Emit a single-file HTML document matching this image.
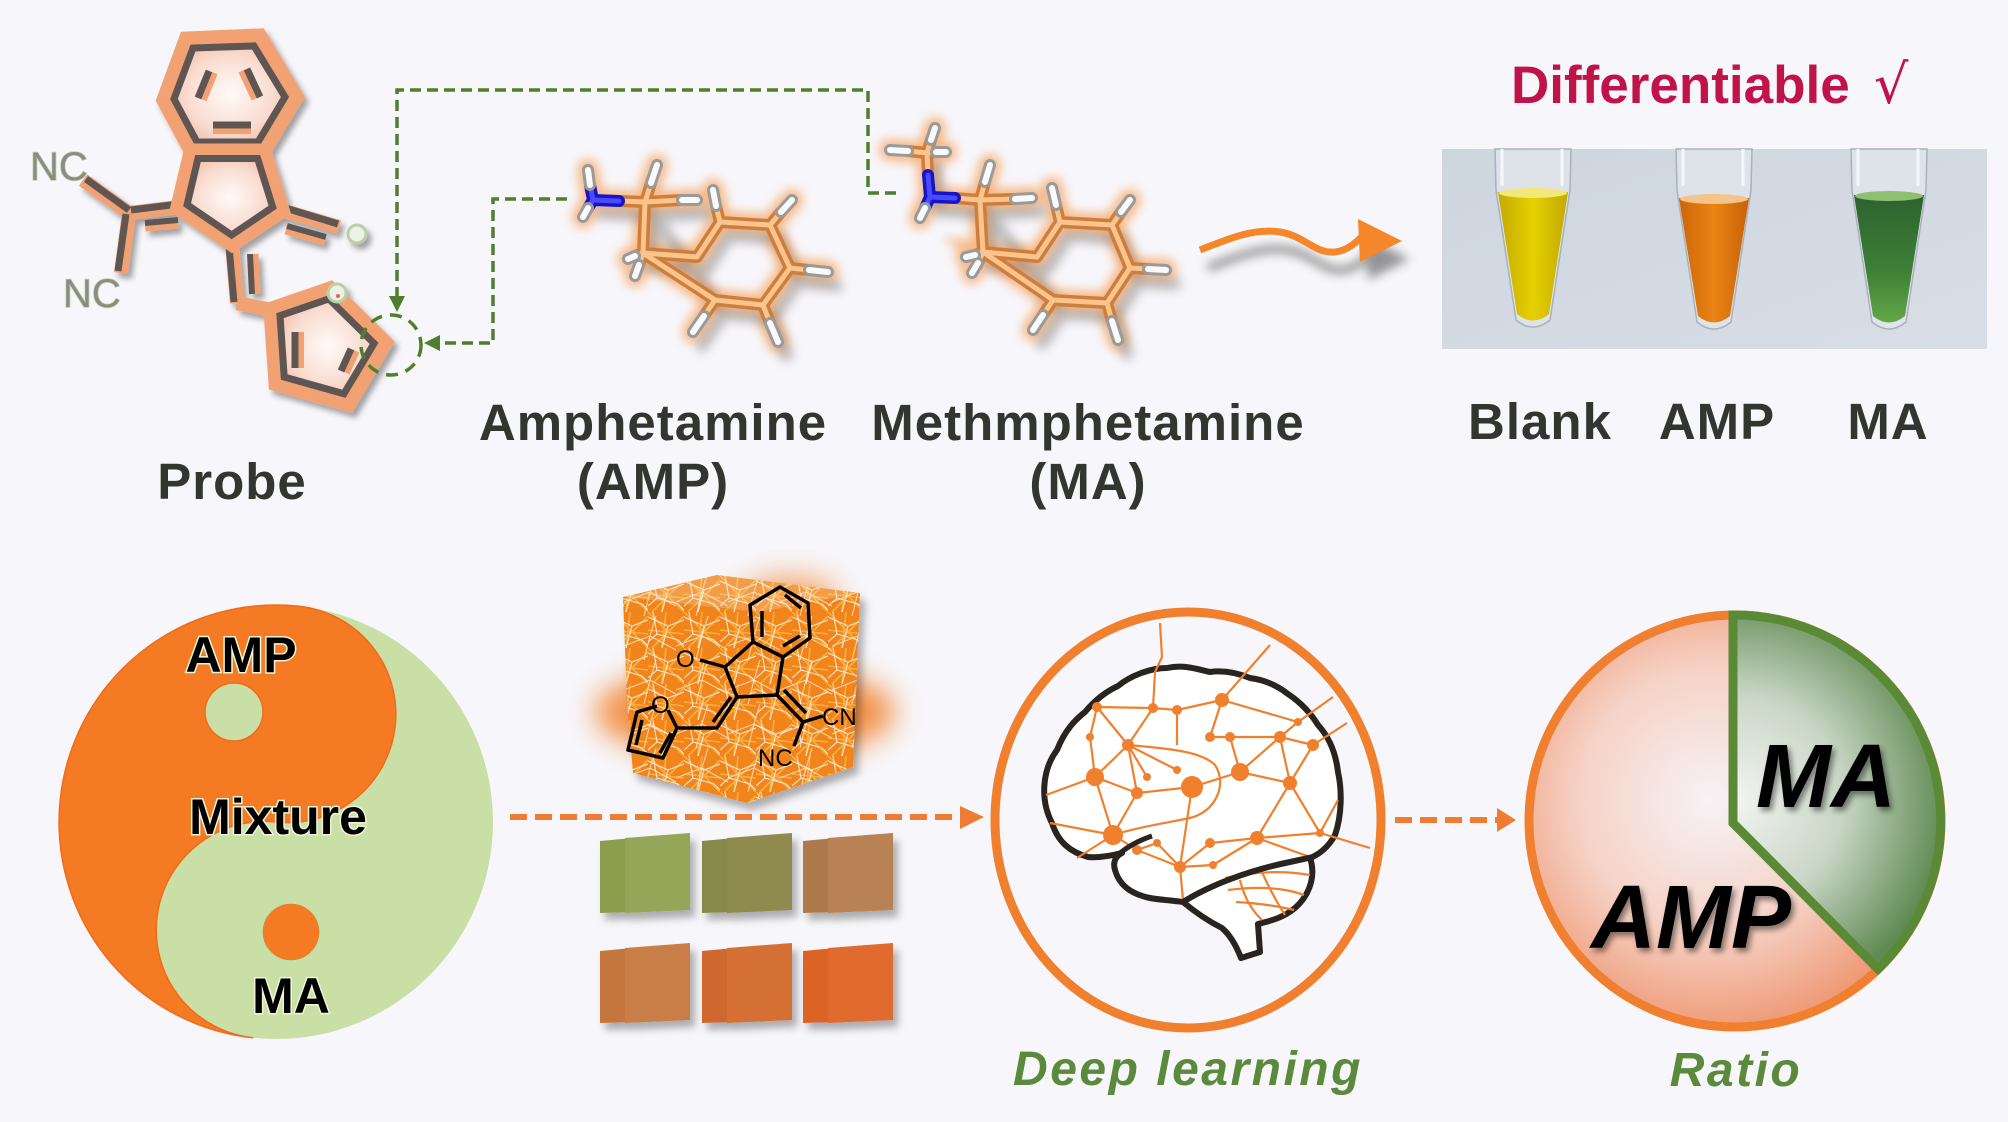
<!DOCTYPE html>
<html><head><meta charset="utf-8"><style>
html,body{margin:0;padding:0;background:#f7f6fa;}
body{width:2008px;height:1122px;overflow:hidden;}
svg{display:block;}
</style></head><body>
<svg width="2008" height="1122" viewBox="0 0 2008 1122" xmlns="http://www.w3.org/2000/svg">
<defs>
  <filter id="blur6" x="-30%" y="-30%" width="160%" height="160%"><feGaussianBlur stdDeviation="5"/></filter>
  <filter id="blur12" x="-50%" y="-50%" width="200%" height="200%"><feGaussianBlur stdDeviation="14"/></filter>
  <filter id="ds" x="-20%" y="-20%" width="140%" height="140%"><feDropShadow dx="4" dy="5" stdDeviation="3" flood-color="#000" flood-opacity="0.35"/></filter>
  <filter id="ds2" x="-20%" y="-20%" width="140%" height="140%"><feDropShadow dx="5" dy="7" stdDeviation="4" flood-color="#000" flood-opacity="0.3"/></filter>
  <filter id="tsh" x="-20%" y="-20%" width="140%" height="140%"><feDropShadow dx="3" dy="4" stdDeviation="3" flood-color="#000" flood-opacity="0.45"/></filter>
  <radialGradient id="pink" cx="50%" cy="50%" r="55%">
    <stop offset="0" stop-color="#fffaf8"/><stop offset="0.6" stop-color="#f9dcd0"/><stop offset="1" stop-color="#f0b8a2"/>
  </radialGradient>
  <radialGradient id="pieO" cx="44%" cy="45%" r="58%">
    <stop offset="0" stop-color="#f6f2f6"/><stop offset="0.55" stop-color="#f6d2c6"/><stop offset="1" stop-color="#ee9670"/>
  </radialGradient>
  <radialGradient id="pieG" cx="1737" cy="800" r="210" gradientUnits="userSpaceOnUse">
    <stop offset="0" stop-color="#f2f4f2"/><stop offset="0.5" stop-color="#c9d6c6"/><stop offset="1" stop-color="#5f8a52"/>
  </radialGradient>
  <linearGradient id="photo" x1="0" x2="1" y1="0" y2="1">
    <stop offset="0" stop-color="#cdd5de"/><stop offset="1" stop-color="#d9dee6"/>
  </linearGradient>
  <linearGradient id="ly" x1="0" x2="1"><stop offset="0" stop-color="#c4aa00"/><stop offset="0.5" stop-color="#e6d000"/><stop offset="1" stop-color="#c2a800"/></linearGradient>
  <linearGradient id="lo" x1="0" x2="1"><stop offset="0" stop-color="#cc6606"/><stop offset="0.5" stop-color="#ea8416"/><stop offset="1" stop-color="#c86206"/></linearGradient>
  <linearGradient id="lg" x1="0" x2="0" y1="0" y2="1"><stop offset="0" stop-color="#2c6230"/><stop offset="0.6" stop-color="#3e8036"/><stop offset="1" stop-color="#62a848"/></linearGradient>
  <pattern id="net1" width="36" height="36" patternUnits="userSpaceOnUse">
    <rect width="36" height="36" fill="#f2841e"/>
    <g stroke="#f9b040" stroke-width="1.6" fill="none">
      <path d="M0,18 L36,22 M18,0 L14,36 M0,0 L36,36 M36,4 L4,36"/>
    </g>
    <g stroke="#f8e8d2" stroke-width="1.1" fill="none">
      <path d="M0,5 L20,14 L36,8 M20,14 L14,36 M5,0 L9,22 L0,30 M9,22 L30,28 L36,34"/>
    </g>
  </pattern>
  <pattern id="net2" width="52" height="44" patternUnits="userSpaceOnUse">
    <g stroke="#fdf3e6" stroke-width="1.1" fill="none" opacity="0.7">
      <path d="M0,30 L26,20 L52,34 M26,20 L32,0 M26,20 L20,44"/>
    </g>
  </pattern>
</defs>

<!-- ================= TOP: PROBE ================= -->
<g filter="url(#ds)">
  <g stroke-linecap="butt" fill="none">
    <g stroke="#f2a272" stroke-width="14">
      <line x1="83" y1="180" x2="129" y2="213"/>
      <line x1="129" y1="213" x2="179" y2="207"/>
      <line x1="129" y1="213" x2="121" y2="273"/>
      <line x1="281" y1="210" x2="339" y2="227"/>
      <line x1="232" y1="243" x2="237" y2="303"/>
      <line x1="237" y1="303" x2="272" y2="310"/>
    </g>
    <g stroke="#5f5652" stroke-width="7">
      <line x1="86" y1="179" x2="129" y2="210"/>
      <line x1="131" y1="210" x2="179" y2="204"/>
      <line x1="126" y1="214" x2="118" y2="271"/>
      <line x1="282" y1="207" x2="338" y2="224"/>
      <line x1="229" y1="246" x2="234" y2="302"/>
    </g>
    <g stroke="#f2a272" stroke-width="11">
      <line x1="145" y1="226" x2="178" y2="223"/>
      <line x1="286" y1="229" x2="325" y2="240"/>
      <line x1="253" y1="254" x2="255" y2="294"/>
    </g>
    <g stroke="#5f5652" stroke-width="6">
      <line x1="145" y1="223" x2="178" y2="220"/>
      <line x1="287" y1="226" x2="326" y2="237"/>
      <line x1="250" y1="254" x2="252" y2="294"/>
    </g>
  </g>
  <polygon points="187,40 259,37 295,97 263,150 192,150 165,100" fill="url(#pink)" stroke="#f2a272" stroke-width="17" stroke-linejoin="miter"/>
  <polygon points="193,48 254,46 285,97 258,142 197,142 174,99" fill="none" stroke="#5f5652" stroke-width="7"/>
  <polygon points="192,152 263,152 281,210 232,243 179,207" fill="url(#pink)" stroke="#f2a272" stroke-width="17"/>
  <polygon points="198,158.5 257.6,158.5 272.7,207.2 231.6,235 187.1,204.7" fill="none" stroke="#5f5652" stroke-width="7"/>
  <polygon points="272,310 330,290 384,343 348,403 277,383" fill="url(#pink)" stroke="#f2a272" stroke-width="17"/>
  <polygon points="280,315.7 328.8,298.9 374.1,343.4 343.9,393.8 284.2,377" fill="none" stroke="#5f5652" stroke-width="7"/>
  <g stroke-linecap="butt">
    <g stroke="#f2a272" stroke-width="12">
      <line x1="212" y1="72" x2="201" y2="99"/>
      <line x1="244" y1="70" x2="257" y2="98"/>
      <line x1="213" y1="128" x2="251" y2="128"/>
      <line x1="298" y1="332" x2="298" y2="368"/>
      <line x1="354" y1="350" x2="344" y2="372"/>
    </g>
    <g stroke="#5f5652" stroke-width="7">
      <line x1="209" y1="71" x2="198" y2="98"/>
      <line x1="247" y1="69" x2="260" y2="97"/>
      <line x1="213" y1="125" x2="251" y2="125"/>
      <line x1="295" y1="332" x2="295" y2="368"/>
      <line x1="351" y1="349" x2="341" y2="371"/>
    </g>
  </g>
  <circle cx="357" cy="234" r="9" fill="#eef0e8" stroke="#b9cfa7" stroke-width="3"/>
  <circle cx="337" cy="293" r="9" fill="#eef0e8" stroke="#b9cfa7" stroke-width="3"/>
  <circle cx="338" cy="296" r="2" fill="#d07040"/>
</g>
<g font-family="Liberation Sans, sans-serif" font-size="40" fill="#8c8c80" stroke="#c3d6b3" stroke-width="1.5" paint-order="stroke">
  <text x="30" y="180">NC</text>
  <text x="63" y="307">NC</text>
</g>

<!-- green dashed connectors -->
<g fill="none" stroke="#4f7f2e" stroke-width="3.5" stroke-dasharray="11 6">
  <path d="M896,193 L868,193 L868,90 L397,90 L397,298"/>
  <path d="M567,199 L493,199 L493,343 L438,343"/>
  <circle cx="391" cy="345" r="30" stroke-dasharray="12 8"/>
</g>
<polygon points="389,296 405,296 397,312" fill="#4f7f2e"/>
<polygon points="440,335 440,351 424,343" fill="#4f7f2e"/>

<!-- ================= AMP molecule ================= -->
<g>
  <g stroke="#f7a05c" stroke-width="22" stroke-linecap="round" fill="none" filter="url(#blur6)" opacity="0.7">
    <path d="M588,170 L593,200 L583,217 M593,200 L645,202 L657,165 M645,202 L697,200 M645,202 L643,253 L628,259 M643,253 L635,276 M643,253 L697,257 L720,222 L770,225 L790,268 L763,305 L715,300 Z M720,222 L713,190 M770,225 L792,200 M790,268 L828,272 M763,305 L778,342 M715,300 L693,332"/>
  </g>
  <g stroke="#777" stroke-width="12" stroke-linecap="round" fill="none" filter="url(#blur6)" opacity="0.45" transform="translate(9,14)">
    <path d="M593,200 L645,202 L697,200 M645,202 L643,253 L697,257 L720,222 L770,225 L790,268 L763,305 L715,300 Z M790,268 L828,272 M763,305 L778,342 M715,300 L693,332"/>
  </g>
  <g stroke-linecap="round" fill="none">
    <path d="M619,201 L645,202 M645,202 L651,183 M645,202 L682,200 M645,202 L643,253 L635,256 M643,253 L639,265 M643,253 L697,257 L720,222 L770,225 L790,268 L763,305 L715,300 Z M720,222 L716,206 M770,225 L781,212 M790,268 L809,270 M763,305 L770,323 M715,300 L704,316" stroke="#cf7d3a" stroke-width="12" stroke-linejoin="round"/>
    <path d="M619,201 L645,202 M645,202 L651,183 M645,202 L682,200 M645,202 L643,253 L635,256 M643,253 L639,265 M643,253 L697,257 L720,222 L770,225 L790,268 L763,305 L715,300 Z M720,222 L716,206 M770,225 L781,212 M790,268 L809,270 M763,305 L770,323 M715,300 L704,316" stroke="#f9c48e" stroke-width="5" stroke-linejoin="round"/>
    <path d="M593,200 L619,201 M593,200 L590,185 M593,200 L588,208" stroke="#1414c8" stroke-width="12"/>
    <path d="M593,200 L619,201 M593,200 L590,185 M593,200 L588,208" stroke="#4a4aff" stroke-width="5"/>
    <path d="M590,185 L588,170 M588,208 L583,217 M651,183 L657,165 M682,200 L697,200 M635,256 L628,259 M639,265 L635,276 M716,206 L713,190 M781,212 L792,200 M809,270 L828,272 M770,323 L778,342 M704,316 L693,332" stroke="#9a9a9a" stroke-width="12"/>
    <path d="M590,185 L588,170 M588,208 L583,217 M651,183 L657,165 M682,200 L697,200 M635,256 L628,259 M639,265 L635,276 M716,206 L713,190 M781,212 L792,200 M809,270 L828,272 M770,323 L778,342 M704,316 L693,332" stroke="#fafafa" stroke-width="6"/>
  </g>
</g>

<!-- ================= MA molecule ================= -->
<g>
  <g stroke="#f7a05c" stroke-width="22" stroke-linecap="round" fill="none" filter="url(#blur6)" opacity="0.7">
    <path d="M935,128 L927,153 L890,150 M927,153 L946,152 M927,153 L930,197 L920,218 M930,197 L980,200 L990,165 M980,200 L1032,198 M980,200 L983,252 L966,257 M983,252 L972,273 M983,252 L1037,257 L1060,222 L1112,225 L1130,268 L1107,303 L1053,300 Z M1060,222 L1052,188 M1112,225 L1130,200 M1130,268 L1166,270 M1107,303 L1118,340 M1053,300 L1033,330"/>
  </g>
  <g stroke="#777" stroke-width="12" stroke-linecap="round" fill="none" filter="url(#blur6)" opacity="0.45" transform="translate(9,14)">
    <path d="M927,153 L930,197 L980,200 L1032,198 M980,200 L983,252 L1037,257 L1060,222 L1112,225 L1130,268 L1107,303 L1053,300 Z M1130,268 L1166,270 M1107,303 L1118,340 M1053,300 L1033,330"/>
  </g>
  <g stroke-linecap="round" fill="none">
    <path d="M927,153 L931,140 M927,153 L908,151 M927,153 L936,152 M927,153 L928,175 M955,198 L980,200 M980,200 L985,182 M980,200 L1015,199 M980,200 L983,252 L975,255 M983,252 L978,263 M983,252 L1037,257 L1060,222 L1112,225 L1130,268 L1107,303 L1053,300 Z M1060,222 L1056,205 M1112,225 L1121,212 M1130,268 L1148,269 M1107,303 L1112,321 M1053,300 L1043,315" stroke="#cf7d3a" stroke-width="12" stroke-linejoin="round"/>
    <path d="M927,153 L931,140 M927,153 L908,151 M927,153 L936,152 M927,153 L928,175 M955,198 L980,200 M980,200 L985,182 M980,200 L1015,199 M980,200 L983,252 L975,255 M983,252 L978,263 M983,252 L1037,257 L1060,222 L1112,225 L1130,268 L1107,303 L1053,300 Z M1060,222 L1056,205 M1112,225 L1121,212 M1130,268 L1148,269 M1107,303 L1112,321 M1053,300 L1043,315" stroke="#f9c48e" stroke-width="5" stroke-linejoin="round"/>
    <path d="M928,175 L930,197 L955,198 M930,197 L925,208" stroke="#1414c8" stroke-width="12" stroke-linejoin="round"/>
    <path d="M928,175 L930,197 L955,198 M930,197 L925,208" stroke="#4a4aff" stroke-width="5" stroke-linejoin="round"/>
    <path d="M931,140 L935,128 M908,151 L890,150 M936,152 L946,152 M925,208 L920,218 M985,182 L990,165 M1015,199 L1032,198 M975,255 L966,257 M978,263 L972,273 M1056,205 L1052,188 M1121,212 L1130,200 M1148,269 L1166,270 M1112,321 L1118,340 M1043,315 L1033,330" stroke="#9a9a9a" stroke-width="12"/>
    <path d="M931,140 L935,128 M908,151 L890,150 M936,152 L946,152 M925,208 L920,218 M985,182 L990,165 M1015,199 L1032,198 M975,255 L966,257 M978,263 L972,273 M1056,205 L1052,188 M1121,212 L1130,200 M1148,269 L1166,270 M1112,321 L1118,340 M1043,315 L1033,330" stroke="#fafafa" stroke-width="6"/>
  </g>
</g>

<!-- wavy orange arrow -->
<g transform="translate(8,18)" filter="url(#blur6)" opacity="0.55">
  <path d="M1200,250 C1230,238 1255,228 1280,232 C1305,236 1315,254 1335,252 C1350,250 1358,240 1365,234" fill="none" stroke="#444" stroke-width="8"/>
  <polygon points="1358,219 1402,241 1360,262" fill="#444"/>
</g>
<path d="M1200,250 C1230,238 1255,228 1280,232 C1305,236 1315,254 1335,252 C1350,250 1358,240 1365,234" fill="none" stroke="#f5862a" stroke-width="7"/>
<polygon points="1358,219 1402,241 1360,262" fill="#f5862a"/>

<!-- photo of tubes -->
<rect x="1442" y="149" width="545" height="200" fill="url(#photo)"/>
<g>
  <g transform="translate(1533,0)">
    <path d="M-38,149 L38,149 L37,190 L17,320 Q0,334 -17,320 L-37,190 Z" fill="#e6eaef" fill-opacity="0.6" stroke="#a9b1ba" stroke-width="1.5"/>
    <path d="M-35,192 L35,192 L16,314 Q0,327 -16,314 Z" fill="url(#ly)"/>
    <ellipse cx="0" cy="193" rx="34" ry="5" fill="#f2e87a"/>
    <path d="M-31,149 L-31,186 M29,149 L29,186" stroke="#f6f7f9" stroke-width="3"/>
  </g>
  <g transform="translate(1714,0)">
    <path d="M-38,149 L38,149 L37,190 L17,322 Q0,336 -17,322 L-37,190 Z" fill="#e6eaef" fill-opacity="0.6" stroke="#a9b1ba" stroke-width="1.5"/>
    <path d="M-35,198 L35,198 L16,316 Q0,329 -16,316 Z" fill="url(#lo)"/>
    <ellipse cx="0" cy="199" rx="34" ry="5" fill="#f4c48a"/>
    <path d="M-31,149 L-31,186 M29,149 L29,186" stroke="#f6f7f9" stroke-width="3"/>
  </g>
  <g transform="translate(1889,0)">
    <path d="M-38,149 L38,149 L37,190 L17,322 Q0,336 -17,322 L-37,190 Z" fill="#e6eaef" fill-opacity="0.6" stroke="#a9b1ba" stroke-width="1.5"/>
    <path d="M-35,195 L35,195 L16,316 Q0,329 -16,316 Z" fill="url(#lg)"/>
    <ellipse cx="0" cy="196" rx="34" ry="5" fill="#8fc070"/>
    <path d="M-31,149 L-31,186 M29,149 L29,186" stroke="#f6f7f9" stroke-width="3"/>
  </g>
</g>

<!-- top labels -->
<g font-family="Liberation Sans, sans-serif" font-weight="bold" font-size="51" fill="#32362f" text-anchor="middle" letter-spacing="1">
  <text x="232" y="499">Probe</text>
  <text x="653" y="440">Amphetamine</text>
  <text x="653" y="499">(AMP)</text>
  <text x="1088" y="440">Methmphetamine</text>
  <text x="1088" y="499">(MA)</text>
  <text x="1540" y="439">Blank</text>
  <text x="1717" y="439">AMP</text>
  <text x="1888" y="439">MA</text>
</g>
<text x="1511" y="103" font-family="Liberation Sans, sans-serif" font-weight="bold" font-size="53" fill="#c0134a">Differentiable</text>
<text x="1874" y="103" font-family="DejaVu Sans, sans-serif" font-size="54" fill="#c0134a">√</text>

<!-- ================= BOTTOM: YIN-YANG ================= -->
<g transform="rotate(6 276 822)">
  <circle cx="276" cy="822" r="217" fill="#c9dfa5"/>
  <path d="M276,605 A217,217 0 0 0 276,1039 A108.5,108.5 0 0 1 276,822 A108.5,108.5 0 0 0 276,605 Z" fill="#f47b24" stroke="#f26a18" stroke-width="1.5"/>
</g>
<circle cx="234" cy="712" r="29" fill="#c9dfa5" stroke="#f26a18" stroke-width="1.5"/>
<circle cx="291" cy="932" r="29" fill="#f47b24" stroke="#b5e6b0" stroke-width="1.5"/>
<g font-family="Liberation Sans, sans-serif" font-weight="bold" font-size="50" fill="#000" stroke="#eef3d8" stroke-width="3" paint-order="stroke" text-anchor="middle">
  <text x="241" y="672">AMP</text>
  <text x="278" y="834">Mixture</text>
  <text x="291" y="1013">MA</text>
</g>

<!-- orange dashed arrow 1 -->
<line x1="510" y1="817" x2="958" y2="817" stroke="#ef7c32" stroke-width="6" stroke-dasharray="17 8"/>
<polygon points="960,806 960,829 984,817" fill="#ef7c32"/>

<!-- cube with molecule -->
<ellipse cx="745" cy="712" rx="150" ry="50" fill="#f37a1c" opacity="0.8" filter="url(#blur12)"/>
<ellipse cx="790" cy="600" rx="50" ry="25" fill="#f37a1c" opacity="0.6" filter="url(#blur12)"/>
<g filter="url(#ds2)">
  <polygon points="623,597 717,575 860,593 853,767 747,803 633,773 627,700" fill="url(#net1)"/>
  <polygon points="623,597 717,575 860,593 853,767 747,803 633,773 627,700" fill="url(#net2)"/>
  <polygon points="623,597 717,575 860,593 760,612" fill="#fbe6cc" opacity="0.25"/>
</g>
<g fill="none" stroke="#000" stroke-width="3.5" stroke-linejoin="round">
  <polygon points="780,587 808,603 810,638 783,657 753,642 750,605"/>
  <path d="M762,611 L762,637 M785,595 L801,608 M800,636 L783,646"/>
  <path d="M753,642 L725,667 L737,697 L777,695 L783,657"/>
  <path d="M725,667 L700,660"/>
  <path d="M777,695 L803,722 M784,690 L806,713"/>
  <path d="M803,722 L823,716"/>
  <path d="M803,722 L794,746"/>
  <path d="M737,697 L717,728 L677,728 M731,697 L713,722"/>
  <path d="M677,728 L668,710 M657,706 L637,712 L628,750 L663,758 L677,728 M642,720 L636,745 M660,753 L671,733"/>
</g>
<g font-family="Liberation Sans, sans-serif" font-size="24" fill="#000">
  <text x="676" y="667">O</text>
  <text x="651" y="713">O</text>
  <text x="822" y="725">CN</text>
  <text x="758" y="766">NC</text>
</g>

<!-- films -->
<g filter="url(#ds2)">
  <g transform="translate(600,833)">
    <polygon points="0,8 65,2 65,78 0,80" fill="#8c9e4c"/>
    <polygon points="25,5 90,0 90,77 25,80" fill="#96a658"/>
  </g>
  <g transform="translate(702,833)">
    <polygon points="0,8 65,2 65,78 0,80" fill="#868948"/>
    <polygon points="25,5 90,0 90,77 25,80" fill="#8f8b50"/>
  </g>
  <g transform="translate(803,833)">
    <polygon points="0,8 65,2 65,78 0,80" fill="#ae7a4c"/>
    <polygon points="25,5 90,0 90,77 25,80" fill="#b88254"/>
  </g>
  <g transform="translate(600,943)">
    <polygon points="0,8 65,2 65,78 0,80" fill="#c4763e"/>
    <polygon points="25,5 90,0 90,77 25,80" fill="#c97e46"/>
  </g>
  <g transform="translate(702,943)">
    <polygon points="0,8 65,2 65,78 0,80" fill="#cf682e"/>
    <polygon points="25,5 90,0 90,77 25,80" fill="#d57036"/>
  </g>
  <g transform="translate(803,943)">
    <polygon points="0,8 65,2 65,78 0,80" fill="#dc6428"/>
    <polygon points="25,5 90,0 90,77 25,80" fill="#e16b2f"/>
  </g>
</g>

<!-- ================= BRAIN ================= -->
<ellipse cx="1188" cy="820" rx="193" ry="208" fill="none" stroke="#f0802e" stroke-width="9"/>
<path d="M1052,823 C1040,800 1042,770 1057,750 C1065,730 1075,720 1085,712 C1095,700 1105,692 1118,686 C1130,676 1150,668 1167,668 C1185,664 1200,670 1210,672 C1225,670 1240,674 1250,678 C1265,680 1278,686 1288,694 C1300,702 1310,712 1318,725 C1330,738 1336,755 1338,772 C1342,790 1342,815 1335,835 C1328,848 1318,855 1310,858 C1316,875 1310,895 1295,908 C1283,918 1270,921 1258,924 L1260,952 L1241,958 C1236,945 1230,935 1222,928 C1210,922 1195,912 1183,902 C1170,900 1160,900 1150,898 C1135,895 1120,888 1115,870 C1112,860 1118,855 1122,853 C1110,856 1098,858 1088,857 C1070,852 1058,842 1052,823 Z" fill="#ffffff" stroke="#2a2420" stroke-width="6" stroke-linejoin="round"/>
<g stroke="#f0802e" stroke-width="2.2" fill="none">
  <path d="M1097,707 L1153,708 L1177,710 L1222,700 M1097,707 L1090,737 M1097,707 L1128,745 M1153,708 L1155,672 L1162,657 L1160,623 M1153,708 L1128,745 M1177,710 L1177,745 M1222,700 L1210,737 M1222,700 L1298,722 M1222,700 L1270,645 M1128,745 L1095,777 M1128,745 L1147,777 M1128,745 L1177,770 M1128,745 L1137,793 M1090,737 L1095,777 M1095,777 L1046,795 M1095,777 L1113,835 M1095,777 L1137,793 M1137,793 L1192,787 L1240,772 M1192,787 L1180,867 L1183,900 M1210,737 L1230,737 L1280,737 M1230,737 L1240,772 L1280,737 M1240,772 L1290,783 M1280,737 L1298,722 M1280,737 L1313,745 M1280,737 L1290,783 M1313,745 L1290,783 M1290,783 L1257,838 M1290,783 L1320,833 M1298,722 L1333,697 M1313,745 L1347,723 M1113,835 L1050,823 M1113,835 L1077,858 M1113,835 L1137,850 M1113,835 L1137,793 M1137,850 L1157,843 L1180,867 M1137,850 L1180,867 M1180,867 L1210,843 L1257,838 M1180,867 L1213,865 L1257,838 M1257,838 L1320,833 L1370,848 M1257,838 L1310,857 M1320,833 L1338,800"/>
  <path d="M1128,745 C1160,748 1200,750 1215,765 C1228,785 1215,812 1190,818 C1160,824 1135,828 1113,835"/>
  <path d="M1225,878 Q1270,868 1310,875 M1228,890 Q1275,884 1304,895 M1236,902 Q1270,904 1294,910 M1240,880 Q1246,905 1262,920 M1262,872 Q1272,895 1285,915"/>
</g>
<g fill="#f0802e">
  <circle cx="1097" cy="707" r="5"/><circle cx="1153" cy="708" r="5"/><circle cx="1177" cy="710" r="5"/><circle cx="1222" cy="700" r="7"/>
  <circle cx="1090" cy="737" r="4"/><circle cx="1128" cy="745" r="6"/><circle cx="1095" cy="777" r="9"/><circle cx="1137" cy="793" r="6"/>
  <circle cx="1147" cy="777" r="4"/><circle cx="1177" cy="770" r="4"/><circle cx="1192" cy="787" r="11"/><circle cx="1210" cy="737" r="5"/>
  <circle cx="1230" cy="737" r="5"/><circle cx="1240" cy="772" r="9"/><circle cx="1280" cy="737" r="6"/><circle cx="1313" cy="745" r="6"/>
  <circle cx="1290" cy="783" r="7"/><circle cx="1298" cy="722" r="4"/><circle cx="1113" cy="835" r="10"/><circle cx="1137" cy="850" r="5"/>
  <circle cx="1157" cy="843" r="4"/><circle cx="1180" cy="867" r="6"/><circle cx="1210" cy="843" r="5"/><circle cx="1213" cy="865" r="4"/>
  <circle cx="1257" cy="838" r="7"/><circle cx="1320" cy="833" r="4"/>
</g>
<path d="M1183,902 C1210,885 1250,870 1290,862 L1313,857" fill="none" stroke="#2a2420" stroke-width="6"/>
<path d="M1120,853 C1130,845 1140,840 1152,836" fill="none" stroke="#2a2420" stroke-width="5"/>

<!-- orange dashed arrow 2 -->
<line x1="1395" y1="820" x2="1497" y2="820" stroke="#ef7c32" stroke-width="6" stroke-dasharray="17 8"/>
<polygon points="1497,808 1497,832 1516,820" fill="#ef7c32"/>

<!-- ================= PIE ================= -->
<circle cx="1735" cy="821" r="206" fill="url(#pieO)" stroke="#f08030" stroke-width="9"/>
<path d="M1733,823 L1733,615 A206,206 0 0 1 1878,969 Z" fill="url(#pieG)" stroke="#5a8a35" stroke-width="9" stroke-linejoin="miter"/>
<g font-family="Liberation Sans, sans-serif" font-weight="bold" font-style="italic" font-size="90" fill="#000" text-anchor="middle" filter="url(#tsh)">
  <text x="1826" y="807">MA</text>
  <text x="1691" y="948">AMP</text>
</g>

<g font-family="Liberation Sans, sans-serif" font-weight="bold" font-style="italic" font-size="48" fill="#5b8a3c" text-anchor="middle" letter-spacing="2.5">
  <text x="1188" y="1085">Deep learning</text>
  <text x="1736" y="1086">Ratio</text>
</g>
</svg>
</body></html>
